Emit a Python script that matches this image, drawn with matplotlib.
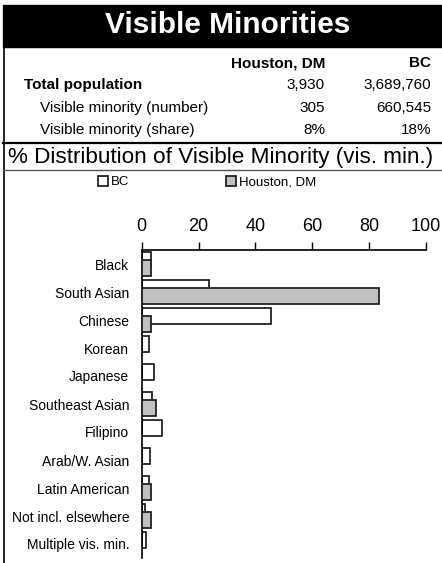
import matplotlib
matplotlib.use("Agg")
import matplotlib.pyplot as plt
from matplotlib.patches import Rectangle
from matplotlib.lines import Line2D
import numpy as np

plt.rcParams['font.family'] = ['Liberation Sans', 'DejaVu Sans']

title = "Visible Minorities"
col_headers = ["Houston, DM", "BC"]
row_labels = ["Total population", "Visible minority (number)", "Visible minority (share)"]
houston_stats = ["3,930", "305", "8%"]
bc_stats = ["3,689,760", "660,545", "18%"]
subtitle = "% Distribution of Visible Minority (vis. min.)"

categories = ["Black", "South Asian", "Chinese", "Korean", "Japanese",
              "Southeast Asian", "Filipino", "Arab/W. Asian", "Latin American",
              "Not incl. elsewhere", "Multiple vis. min."]
bc_values = [3.3, 23.6, 45.6, 2.7, 4.3, 3.7, 7.1, 3.0, 2.5, 1.1, 1.6]
houston_values = [3.3, 83.6, 3.3, 0, 0, 4.9, 0, 0, 3.3, 3.3, 0]
x_ticks = [0, 20, 40, 60, 80, 100]

W, H = 442, 563
fig = plt.figure(figsize=(W / 100, H / 100), dpi=100)

def fx(px):
    return px / W

def fy(py):
    return 1 - py / H

# Title band
fig.patches.append(Rectangle((fx(3), fy(47)), 1 - fx(3), (47 - 5) / H,
                             transform=fig.transFigure, color='black', zorder=0))
fig.text(fx(228), fy(25), title, color='white', fontsize=21.5, fontweight='bold',
         ha='center', va='center')

# Left border
fig.lines.append(Line2D([fx(3.5), fx(3.5)], [fy(47), fy(563)], transform=fig.transFigure,
                        color='black', lw=1.2))

# Stats table
fs = 11
fig.text(fx(325), fy(63), col_headers[0], fontsize=fs, fontweight='bold', ha='right', va='center')
fig.text(fx(431), fy(63), col_headers[1], fontsize=fs, fontweight='bold', ha='right', va='center')
row_y = [85, 108, 130]
row_x = [24, 40, 40]
for i, lab in enumerate(row_labels):
    fig.text(fx(row_x[i]), fy(row_y[i]), lab, fontsize=fs,
             fontweight='bold' if i == 0 else 'normal', ha='left', va='center')
    fig.text(fx(325), fy(row_y[i]), houston_stats[i], fontsize=fs, ha='right', va='center')
    fig.text(fx(431), fy(row_y[i]), bc_stats[i], fontsize=fs, ha='right', va='center')

# Separator lines
fig.lines.append(Line2D([fx(3), 1], [fy(143), fy(143)], transform=fig.transFigure,
                        color='black', lw=1.6))
fig.lines.append(Line2D([fx(3), 1], [fy(169.5), fy(169.5)], transform=fig.transFigure,
                        color='#555555', lw=1.0))
fig.text(fx(221), fy(157), subtitle, fontsize=16.2, ha='center', va='center')

# Chart
ax = fig.add_axes([fx(141.7), fy(558), fx(426) - fx(141.7), (558 - 250) / H])
y = np.arange(len(categories))
bh = 0.57
off = 0.14
b1 = ax.barh(y - off, bc_values, height=bh, color='white', edgecolor='#222222',
             linewidth=1.3, label='BC', zorder=2)
b2 = ax.barh(y + off, houston_values, height=bh, color='#c0c0c0', edgecolor='#222222',
             linewidth=1.3, label='Houston, DM', zorder=3)
for rect, v in zip(b2, houston_values):
    if v == 0:
        rect.set_visible(False)
for rect, v in zip(b1, bc_values):
    if v == 0:
        rect.set_visible(False)

ax.set_xlim(0, 100)
ax.set_ylim(len(categories) - 0.5, -0.5)
ax.set_xticks(x_ticks)
ax.xaxis.tick_top()
ax.tick_params(axis='x', direction='out', length=6, width=1, labelsize=13, pad=5)
ax.set_yticks(y)
ax.set_yticklabels(categories, fontsize=10)
ax.tick_params(axis='y', length=0, pad=9)
for s in ['right', 'bottom']:
    ax.spines[s].set_visible(False)
ax.spines['left'].set_linewidth(1.2)
ax.spines['top'].set_linewidth(1.2)
ax.patch.set_visible(False)

leg = fig.legend(handles=[b1, b2], labels=['BC', 'Houston, DM'], loc='center',
                 bbox_to_anchor=(fx(207), fy(182)), ncol=2, frameon=False,
                 fontsize=9.5, handlelength=0.8, handleheight=0.8, handletextpad=0.2,
                 columnspacing=7.3)

fig.savefig("out.png", dpi=100)
